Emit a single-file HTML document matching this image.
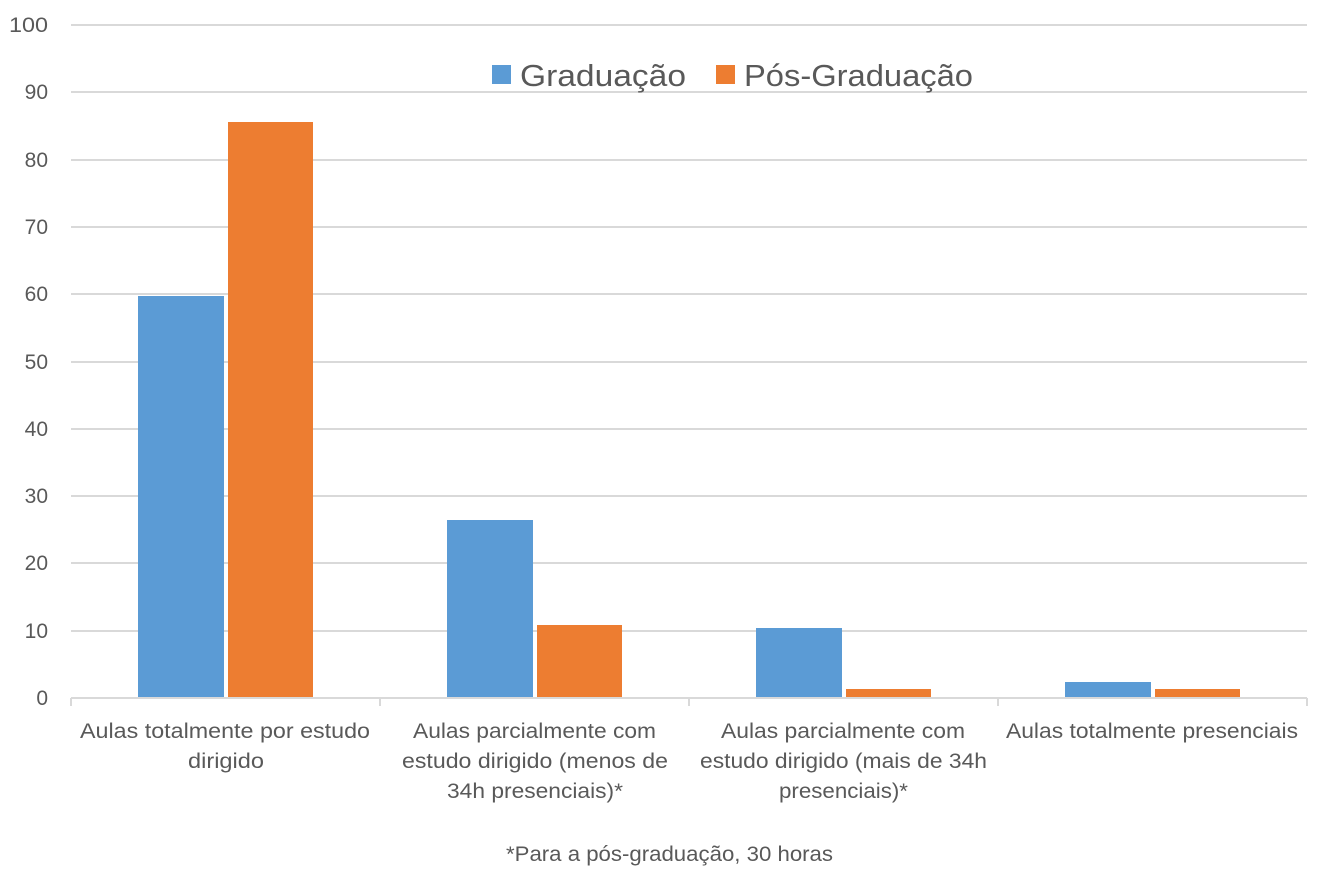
<!DOCTYPE html>
<html><head><meta charset="utf-8"><style>body{margin:0;background:#fff}</style></head><body>
<svg width="1334" height="889" xmlns="http://www.w3.org/2000/svg" font-family="Liberation Sans, sans-serif" fill="#595959">
<g stroke="#d9d9d9" stroke-width="2">
<line x1="71" x2="1307" y1="25" y2="25"/><line x1="71" x2="1307" y1="92" y2="92"/><line x1="71" x2="1307" y1="160" y2="160"/><line x1="71" x2="1307" y1="227" y2="227"/><line x1="71" x2="1307" y1="294" y2="294"/><line x1="71" x2="1307" y1="362" y2="362"/><line x1="71" x2="1307" y1="429" y2="429"/><line x1="71" x2="1307" y1="496" y2="496"/><line x1="71" x2="1307" y1="563" y2="563"/><line x1="71" x2="1307" y1="631" y2="631"/>
<line x1="71" x2="1307" y1="698" y2="698"/>
<line x1="71" x2="71" y1="698" y2="706"/><line x1="380" x2="380" y1="698" y2="706"/><line x1="689" x2="689" y1="698" y2="706"/><line x1="998" x2="998" y1="698" y2="706"/><line x1="1307" x2="1307" y1="698" y2="706"/>
</g>
<g font-size="21" text-anchor="end">
<text x="48" y="32" textLength="39" lengthAdjust="spacingAndGlyphs">100</text><text x="48" y="99">90</text><text x="48" y="167">80</text><text x="48" y="234">70</text><text x="48" y="301">60</text><text x="48" y="369">50</text><text x="48" y="436">40</text><text x="48" y="503">30</text><text x="48" y="570">20</text><text x="48" y="638">10</text><text x="48" y="705">0</text>
</g>
<g fill="#5b9bd5">
<rect x="138" y="296" width="86" height="401"/><rect x="447" y="520" width="86" height="177"/><rect x="756" y="628" width="86" height="69"/><rect x="1065" y="682" width="86" height="15"/>
</g>
<g fill="#ed7d31">
<rect x="228" y="122" width="85" height="575"/><rect x="537" y="625" width="85" height="72"/><rect x="846" y="689" width="85" height="8"/><rect x="1155" y="689" width="85" height="8"/>
</g>
<g font-size="21" lengthAdjust="spacingAndGlyphs">
<text x="80" y="738" textLength="290" lengthAdjust="spacingAndGlyphs">Aulas totalmente por estudo</text><text x="188" y="768" textLength="76" lengthAdjust="spacingAndGlyphs">dirigido</text>
<text x="413" y="738" textLength="243" lengthAdjust="spacingAndGlyphs">Aulas parcialmente com</text><text x="402" y="768" textLength="266" lengthAdjust="spacingAndGlyphs">estudo dirigido (menos de</text><text x="447" y="798" textLength="176" lengthAdjust="spacingAndGlyphs">34h presenciais)*</text>
<text x="721" y="738" textLength="244" lengthAdjust="spacingAndGlyphs">Aulas parcialmente com</text><text x="700" y="768" textLength="287" lengthAdjust="spacingAndGlyphs">estudo dirigido (mais de 34h</text><text x="779" y="798" textLength="129" lengthAdjust="spacingAndGlyphs">presenciais)*</text>
<text x="1006" y="738" textLength="292" lengthAdjust="spacingAndGlyphs">Aulas totalmente presenciais</text>
<text x="506" y="861" textLength="327" lengthAdjust="spacingAndGlyphs">*Para a pós-graduação, 30 horas</text>
</g>
<rect x="492" y="65" width="19" height="19" fill="#5b9bd5"/>
<text x="520" y="86" font-size="31" textLength="166" lengthAdjust="spacingAndGlyphs">Graduação</text>
<rect x="716" y="65" width="19" height="19" fill="#ed7d31"/>
<text x="744" y="86" font-size="31" textLength="229" lengthAdjust="spacingAndGlyphs">Pós-Graduação</text>
</svg>
</body></html>
